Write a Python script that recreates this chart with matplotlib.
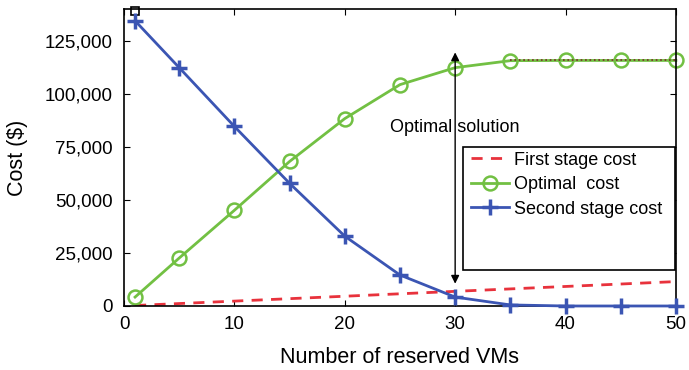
import matplotlib
matplotlib.use("Agg")
import matplotlib.pyplot as plt
from matplotlib.patches import Rectangle
from matplotlib.ticker import FuncFormatter

plt.rcParams['font.family'] = ['Liberation Sans', 'DejaVu Sans']

vms = [1, 5, 10, 15, 20, 25, 30, 35, 40, 45, 50]
first_stage = [230, 1150, 2300, 3450, 4600, 5750, 6900, 8050, 9200, 10350, 11500]
optimal = [4200, 22600, 45100, 68100, 88300, 104300, 112300, 115600, 115700, 115700, 115700]
second_stage = [134400, 112300, 84600, 57800, 32900, 14600, 4200, 500, 0, 0, 0]

flat_x = [35, 40, 45, 50]
flat_y = [115700, 115700, 115700, 115700]

opt_x = 30
arrow_top = 119500
arrow_bottom = 10500

fig = plt.figure(figsize=(6.89, 3.70), dpi=100)
ax = fig.add_axes([0.18, 0.173, 0.801, 0.803])

red = '#e8323c'
green = '#72c043'
blue = '#3b55b3'

ax.plot(vms, first_stage, '--', color=red, lw=2, dashes=(4, 3), label='First stage cost')
ax.plot(vms, optimal, '-o', color=green, lw=2, ms=10, mfc='none', mew=1.8,
        label='Optimal  cost', clip_on=False)
ax.plot(vms, second_stage, '-+', color=blue, lw=2, ms=12, mew=2.5,
        label='Second stage cost', clip_on=False, zorder=3)
ax.plot(flat_x, flat_y, ':', color='#7a2a2a', lw=1.2, zorder=4)
ax.plot([1], [139000], 's', color='black', mfc='none', ms=6, mew=1.2, clip_on=False)

ax.annotate('', xy=(opt_x, arrow_top), xytext=(opt_x, arrow_bottom),
            arrowprops=dict(arrowstyle='<|-|>', color='black', lw=1.0,
                            shrinkA=0, shrinkB=0, mutation_scale=12))
ax.text(opt_x, 84000, 'Optimal solution', ha='center', va='center', fontsize=13)

ax.set_xlim(0, 50)
ax.set_ylim(0, 140000)
ax.set_xticks([0, 10, 20, 30, 40, 50])
ax.set_yticks([0, 25000, 50000, 75000, 100000, 125000])
ax.yaxis.set_major_formatter(FuncFormatter(lambda v, p: f"{int(v):,}"))
ax.tick_params(direction='in', top=True, right=True, labelsize=13.5, length=4)
ax.tick_params(axis='x', pad=7)
ax.tick_params(axis='y', pad=8)
for s in ax.spines.values():
    s.set_linewidth(1.2)

ax.set_xlabel('Number of reserved VMs', fontsize=15.5, labelpad=10)
ax.set_ylabel('Cost ($)', fontsize=15.5, labelpad=12)

ax.add_patch(Rectangle((0.614, 0.121), 0.384, 0.414, transform=ax.transAxes,
                       fill=True, facecolor='white', edgecolor='black', lw=1.2, zorder=5))
leg = ax.legend(loc='upper left', bbox_to_anchor=(0.622, 0.532), frameon=False,
                fontsize=13, handlelength=2.1, handletextpad=0.3, labelspacing=0.42,
                borderaxespad=0, borderpad=0.2)
leg.set_zorder(6)

fig.savefig('out.png', dpi=100)
